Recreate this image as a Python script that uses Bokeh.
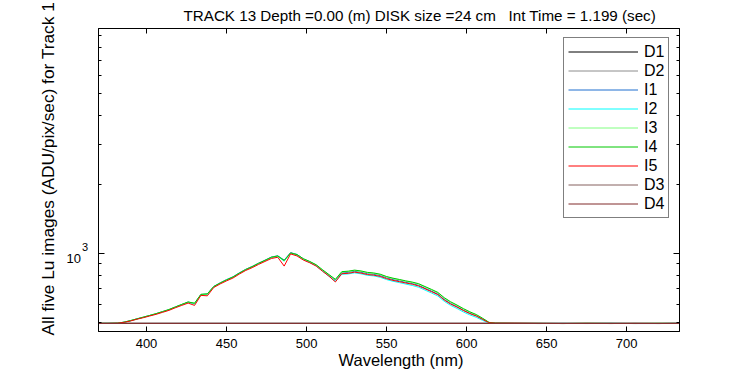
import numpy as np
from bokeh.plotting import figure
from bokeh.models import Range1d, LinearAxis, LogAxis, FixedTicker, Legend, LegendItem, Label, Title
from bokeh.embed import file_html
from bokeh.resources import INLINE

# ---------------- data ----------------
wavelength = [370, 376, 382,
              386, 390, 394, 398, 402, 406, 410, 414, 418, 422, 426, 430, 434, 438, 442, 446,
              450, 454, 458, 462, 466, 470, 474, 478, 482, 486, 490, 494, 498, 502, 506, 510,
              514, 518, 522, 526, 530, 534, 538, 542, 546, 550, 554, 558, 562, 566, 570, 574,
              578, 582, 586, 590, 594, 598, 602, 606, 610, 614,
              618, 630, 645, 660, 675, 690, 705, 720, 733]

I1 = [494, 494, 495,
      500, 507, 517, 525, 535, 544, 556, 567, 582, 597, 612, 603, 661, 664, 717, 743,
      768, 790, 822, 852, 877, 906, 934, 964, 976, 935, 1008, 990, 946, 918, 888, 843,
      803, 765, 822, 826, 835, 827, 815, 810, 800, 782, 768, 758, 747, 738, 725, 704,
      684, 664, 629, 604, 585, 564, 547, 533, 515, 497,
      495, 494, 493, 494, 493, 494, 493, 493, 494]
I2 = [494, 494, 495,
      499, 507, 516, 525, 534, 543, 554, 566, 581, 596, 610, 600, 659, 660, 714, 740,
      764, 786, 818, 848, 873, 902, 929, 958, 970, 925, 1002, 983, 940, 912, 882, 836,
      794, 755, 810, 813, 822, 814, 802, 797, 786, 768, 755, 745, 734, 724, 711, 691,
      671, 651, 617, 592, 574, 554, 538, 525, 509, 495,
      494, 494, 494, 493, 494, 493, 494, 493, 494]
I3 = [494, 494, 495,
      500, 508, 516, 526, 535, 545, 555, 567, 582, 597, 612, 604, 660, 663, 715, 741,
      765, 787, 819, 849, 874, 904, 931, 960, 973, 928, 1003, 986, 945, 919, 889, 845,
      805, 767, 828, 832, 841, 834, 822, 817, 807, 788, 775, 765, 754, 745, 733, 712,
      692, 671, 636, 610, 591, 570, 552, 537, 518, 498,
      495, 494, 493, 494, 494, 493, 494, 494, 493]
I4 = [494, 494, 495,
      500, 508, 517, 526, 535, 545, 556, 568, 583, 598, 613, 605, 662, 665, 716, 742,
      766, 788, 820, 850, 875, 905, 932, 962, 975, 930, 1005, 988, 948, 922, 892, 848,
      808, 770, 832, 836, 845, 838, 826, 821, 811, 792, 779, 769, 758, 749, 737, 716,
      696, 675, 640, 614, 594, 573, 555, 540, 520, 499,
      495, 494, 494, 493, 494, 494, 493, 494, 494]
I5 = [494, 494, 495,
      499, 506, 515, 523, 532, 541, 552, 563, 578, 592, 606, 592, 655, 652, 709, 735,
      758, 780, 812, 842, 866, 895, 922, 950, 962, 880, 995, 975, 935, 910, 880, 835,
      795, 750, 815, 818, 828, 820, 808, 803, 793, 775, 762, 752, 742, 733, 720, 700,
      680, 660, 625, 600, 582, 562, 545, 532, 514, 497,
      495, 495, 494, 493, 494, 493, 494, 493, 494]

wavelength_dark = [370, 450, 550, 650, 733]
D1 = [494, 494, 494, 494, 494]
D2 = [494, 494, 494, 494, 494]
D3 = [494, 494, 494, 494, 494]
D4 = [494, 494, 494, 494, 494]

series_names = ["D1", "D2", "I1", "I2", "I3", "I4", "I5", "D3", "D4"]
series_colors = ["#000000", "#8c8c8c", "#1f6fcf", "#00ffff", "#80ff80",
                 "#00c800", "#ff0000", "#85605f", "#802b2b"]

x_ticks = [400, 450, 500, 550, 600, 650, 700]
y_major = [1000]
y_minor = [500, 600, 700, 800, 900, 2000, 3000, 4000, 5000, 6000, 7000, 8000, 9000]

title_text = "TRACK 13 Depth =0.00 (m) DISK size =24 cm \u00a0 Int Time = 1.199 (sec)"
xlabel_text = "Wavelength (nm)"
ylabel_text = "All five Lu images (ADU/pix/sec) for Track 1"

FONT = "Liberation Sans"

# ---------------- figure ----------------
p = figure(width=750, height=375, x_range=Range1d(370, 733), y_range=Range1d(455, 9660),
           y_axis_type="log", output_backend="svg", toolbar_location=None, title=None,
           min_border_left=98, min_border_right=71, min_border_top=28, min_border_bottom=44)
p.xgrid.visible = False
p.ygrid.visible = False
p.outline_line_color = "black"
p.outline_line_width = 1
p.background_fill_color = "white"
p.border_fill_color = "white"

p.add_layout(LinearAxis(), "above")
p.add_layout(LogAxis(), "right")


def style_axis(ax, ticker, tick_in, labels):
    ax.ticker = ticker
    ax.major_tick_in = tick_in
    ax.major_tick_out = 0
    ax.minor_tick_in = 3
    ax.minor_tick_out = 0
    ax.axis_line_color = "black"
    ax.major_tick_line_color = "black"
    ax.minor_tick_line_color = "black"
    ax.major_label_text_font = FONT
    ax.major_label_text_color = "black"
    ax.major_label_text_font_size = "13px"
    if labels:
        ax.major_label_standoff = 7
    else:
        ax.major_label_standoff = 0
        ax.major_label_overrides = {t: "" for t in ticker.ticks}


for ax in p.below:
    style_axis(ax, FixedTicker(ticks=x_ticks), 5, True)
for ax in p.above:
    style_axis(ax, FixedTicker(ticks=x_ticks), 5, False)
for ax in p.left + p.right:
    style_axis(ax, FixedTicker(ticks=y_major, minor_ticks=y_minor), 6, False)

# ---------------- lines ----------------
data = {"D1": (wavelength_dark, D1), "D2": (wavelength_dark, D2),
        "I1": (wavelength, I1), "I2": (wavelength, I2), "I3": (wavelength, I3),
        "I4": (wavelength, I4), "I5": (wavelength, I5),
        "D3": (wavelength_dark, D3), "D4": (wavelength_dark, D4)}
items = []
for name, color in zip(series_names, series_colors):
    xs, ys = data[name]
    r = p.line(xs, ys, line_color=color, line_width=1)
    items.append(LegendItem(label=name, renderers=[r]))

legend = Legend(items=items, location=(465, 113), padding=4, spacing=0, margin=0,
                glyph_width=70, glyph_height=19, label_height=19, label_standoff=6,
                label_text_font=FONT, label_text_font_size="16px", label_text_color="black",
                border_line_color="black", border_line_width=1,
                background_fill_color="white", background_fill_alpha=1)
p.add_layout(legend, "center")

# ---------------- texts in the side panels ----------------
# 10^3 label of the log axis (left panel, next to the axis)
p.add_layout(Label(x=-3.5, y=1000, x_units="screen", y_units="data", text="10",
                   y_offset=-5, text_font=FONT, text_font_size="13px", text_align="right",
                   text_baseline="alphabetic", text_color="black"), "left")
p.add_layout(Label(x=3.5, y=1000, x_units="screen", y_units="data", text="3",
                   y_offset=6.5, text_font=FONT, text_font_size="11px", text_align="left",
                   text_baseline="alphabetic", text_color="black"), "left")
# y axis label
p.add_layout(Title(text=ylabel_text, align="left", offset=-4, standoff=41,
                   vertical_align="bottom", text_font=FONT, text_font_size="17.3px",
                   text_font_style="normal", text_color="black"), "left")
# title (above panel)
p.add_layout(Label(x=85, y=13.5, x_units="screen", y_units="screen", text=title_text,
                   text_font=FONT, text_font_size="15.2px", text_align="left",
                   text_baseline="alphabetic", text_color="black"), "above")
# x axis label
p.add_layout(Title(text=xlabel_text, align="left", offset=240, standoff=0, vertical_align="top",
                   text_font=FONT, text_font_size="16.5px", text_font_style="normal",
                   text_color="black"), "below")

open("out.html", "w").write(file_html(p, INLINE))
